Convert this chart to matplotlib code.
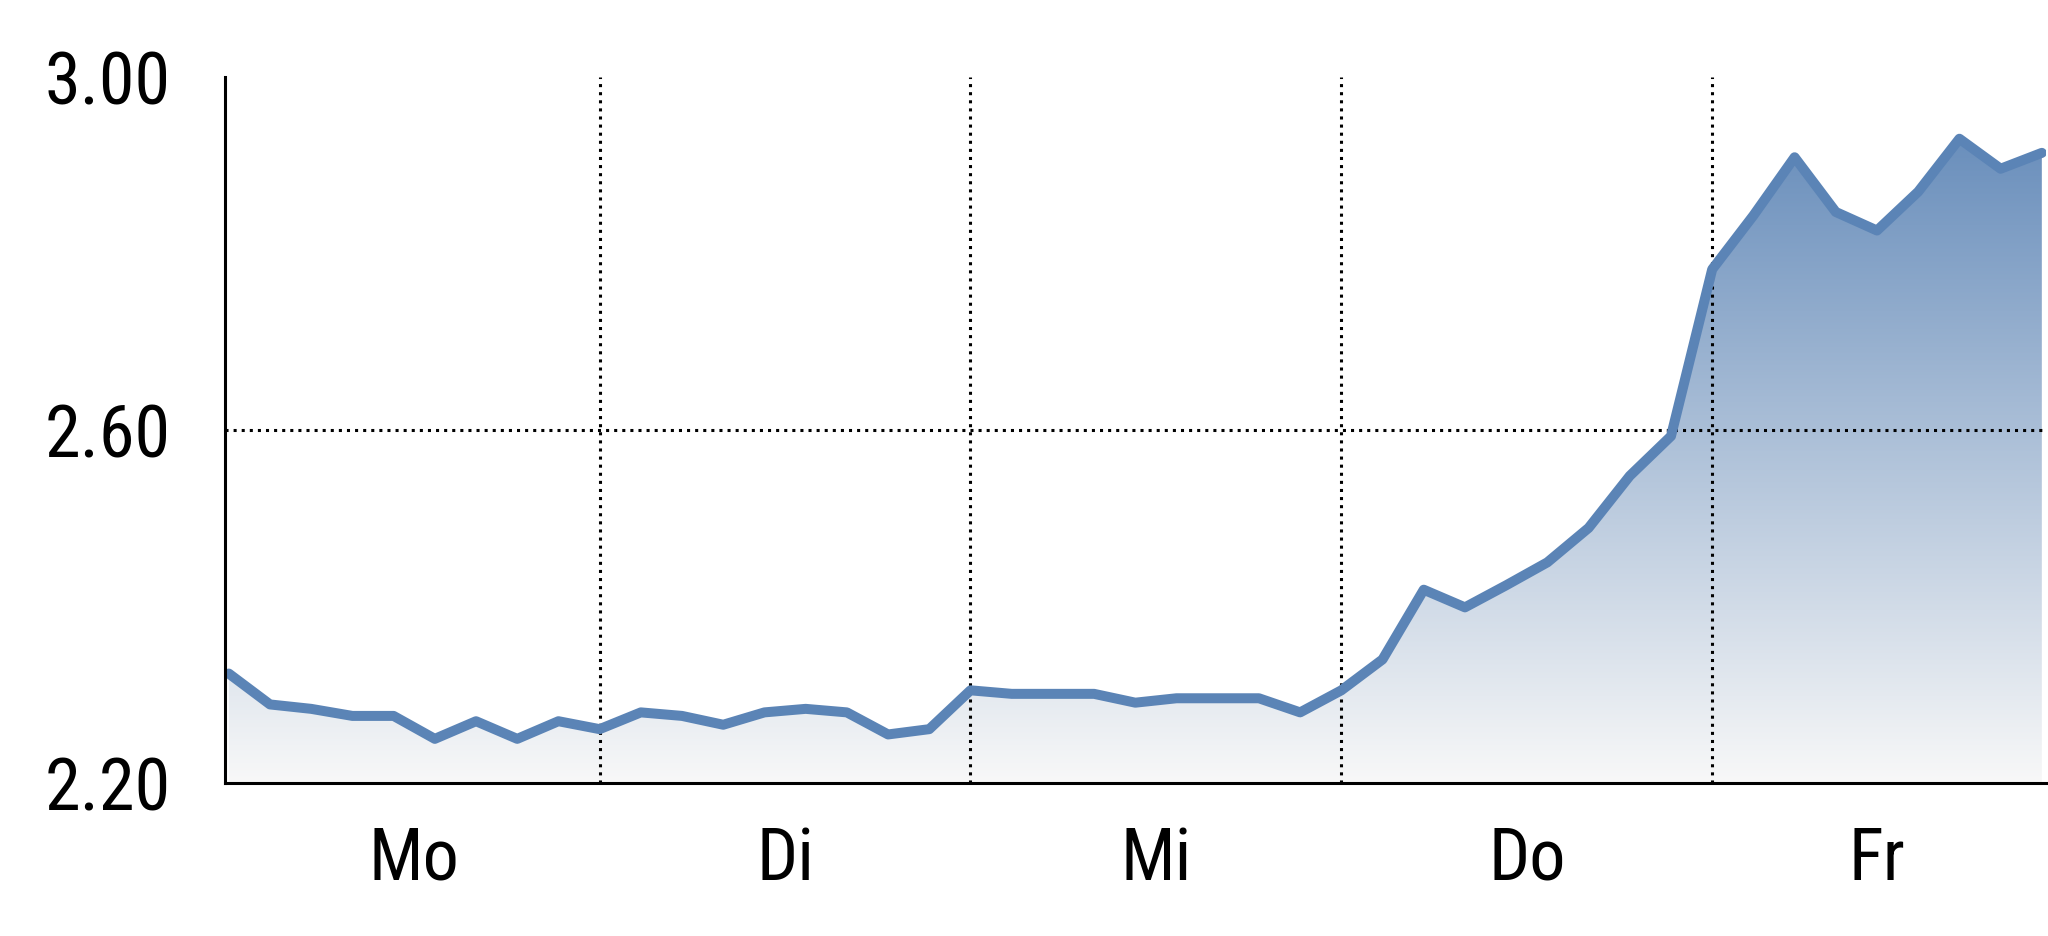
import numpy as np
import matplotlib
matplotlib.use("Agg")
import matplotlib.pyplot as plt
from matplotlib import font_manager as fm
from matplotlib.colors import LinearSegmentedColormap
from matplotlib.patches import Polygon

# ---- data ----
day_labels = ["Mo", "Di", "Mi", "Do", "Fr"]
day_label_pos = [4.5, 13.5, 22.5, 31.5, 40]
day_boundaries = [9, 18, 27, 36]
values = [
    2.324, 2.289, 2.284, 2.276, 2.276, 2.250, 2.270, 2.250, 2.270, 2.261,   # Mo
    2.280, 2.276, 2.266, 2.280, 2.284, 2.280, 2.255, 2.261, 2.305,          # Di
    2.301, 2.301, 2.301, 2.291, 2.296, 2.296, 2.296, 2.280, 2.305,          # Mi
    2.340, 2.419, 2.399, 2.424, 2.450, 2.489, 2.548, 2.593, 2.782,          # Do
    2.843, 2.909, 2.847, 2.826, 2.870, 2.930, 2.896, 2.914,                 # Fr
]
y_ticks = [2.20, 2.60, 3.00]
y_ticklabels = ["2.20", "2.60", "3.00"]

x = np.arange(len(values))
y = np.array(values)

# pick a narrow sans font if available
names = {f.name for f in fm.fontManager.ttflist}
condensed = {}
for f in fm.fontManager.ttflist:
    st = str(f.stretch).lower()
    if st in ("condensed", "semi-condensed", "extra-condensed") or \
       (isinstance(f.stretch, (int, float)) and f.stretch < 500):
        condensed.setdefault(f.name, f.fname)
font_kw = {}
chosen = None
for cand in ["Liberation Sans Narrow", "Arial Narrow", "Roboto Condensed",
             "Open Sans Condensed", "Noto Sans Condensed", "Nimbus Sans Narrow"]:
    if cand in names:
        chosen = cand
        break
if chosen is None:
    for pref in ["Liberation Sans", "Noto Sans", "Roboto", "Open Sans", "DejaVu Sans"]:
        if pref in condensed:
            font_kw = {"fname": condensed[pref]}
            break
if chosen:
    plt.rcParams['font.family'] = [chosen, 'Liberation Sans', 'DejaVu Sans']
    label_size = 52
elif font_kw:
    plt.rcParams['font.family'] = ['Liberation Sans', 'DejaVu Sans']
    label_size = 52
else:
    plt.rcParams['font.family'] = ['Liberation Sans', 'DejaVu Sans']
    label_size = 47

fig = plt.figure(figsize=(20.48, 9.37), dpi=100)
ax = fig.add_axes([0.1097, 0.1633, 0.8893, 0.7535])

ymin, ymax = 2.20, 3.00
xmin, xmax = -0.1, 44.1
ax.set_xlim(xmin, xmax)
ax.set_ylim(ymin, ymax)

# gradient fill under the line
cmap = LinearSegmentedColormap.from_list("grad", ["#f8f8f8", "#6a8fbc"])
grad = np.linspace(0, 1, 256).reshape(-1, 1)
im = ax.imshow(grad, extent=(xmin, xmax, ymin, max(values)), origin="lower",
               aspect="auto", cmap=cmap, zorder=1)
poly_pts = np.vstack([np.column_stack([x, y]), [[x[-1], ymin], [x[0], ymin]]])
poly = Polygon(poly_pts, closed=True, facecolor="none", edgecolor="none")
ax.add_patch(poly)
im.set_clip_path(poly)
ax.set_ylim(ymin, ymax)

# grid lines
for b in day_boundaries:
    ax.axvline(b, color="black", linestyle=":", linewidth=2.2, zorder=2)
ax.axhline(2.60, color="black", linestyle=":", linewidth=2.2, zorder=2)

# line
ax.plot(x, y, color="#5b84b6", linewidth=7.2, solid_joinstyle="round",
        solid_capstyle="round", zorder=3)

# spines
for s in ["top", "right"]:
    ax.spines[s].set_visible(False)
for s in ["left", "bottom"]:
    ax.spines[s].set_linewidth(2.2)
    ax.spines[s].set_color("black")
    ax.spines[s].set_zorder(4)

ax.set_yticks(y_ticks)
ax.set_yticklabels(y_ticklabels)
ax.set_xticks(day_label_pos)
ax.set_xticklabels(day_labels)
ax.tick_params(axis="y", length=0, pad=39, labelsize=label_size)
ax.tick_params(axis="x", length=0, pad=30, labelsize=label_size)
if font_kw:
    fp = fm.FontProperties(fname=font_kw["fname"], size=label_size)
    for t in ax.get_xticklabels() + ax.get_yticklabels():
        t.set_fontproperties(fp)

fig.savefig("out.png", dpi=100)
